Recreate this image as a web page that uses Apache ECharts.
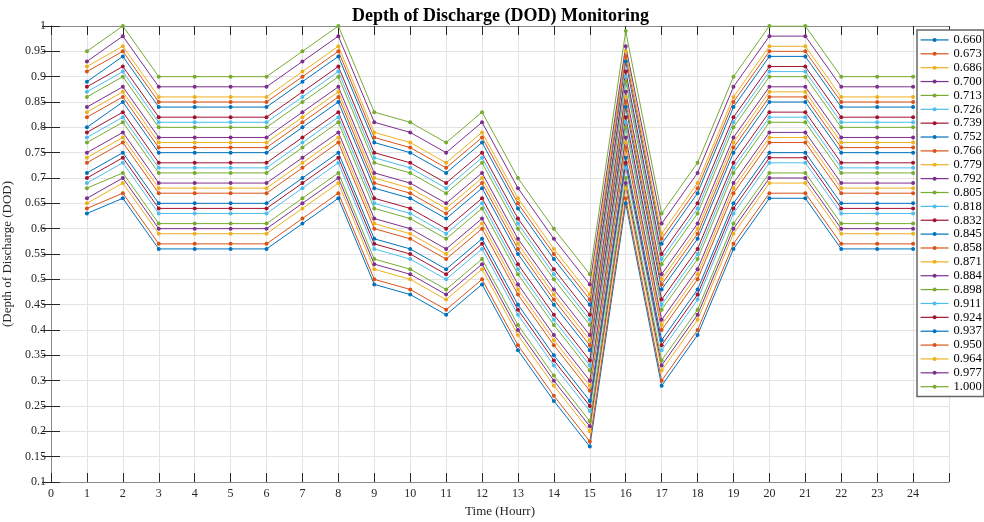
<!DOCTYPE html>
<html>
<head>
<meta charset="utf-8">
<script src="https://cdn.jsdelivr.net/npm/echarts@6/dist/echarts.min.js"></script>
<style>
  html, body { margin: 0; padding: 0; background: #fff; }
  #chart { width: 984px; height: 522px; }
</style>
</head>
<body>
<div id="chart"></div>
<script>
"use strict";

//
// Data
//
const hours = [1, 2, 3, 4, 5, 6, 7, 8, 9, 10, 11, 12, 13, 14, 15, 16, 17, 18, 19, 20, 21, 22, 23, 24];
const dod_levels = ["0.660", "0.673", "0.686", "0.700", "0.713", "0.726", "0.739", "0.752", "0.766",
  "0.779", "0.792", "0.805", "0.818", "0.832", "0.845", "0.858", "0.871", "0.884", "0.898",
  "0.911", "0.924", "0.937", "0.950", "0.964", "0.977", "1.000"];

// one array per hour, values ordered like dod_levels
const h01 = [0.63, 0.64, 0.65, 0.66, 0.68, 0.69, 0.70, 0.71, 0.73, 0.74, 0.75, 0.77, 0.78, 0.79, 0.80, 0.82, 0.83, 0.84, 0.86, 0.87, 0.88, 0.89, 0.91, 0.92, 0.93, 0.95];
const h02 = [0.66, 0.67, 0.69, 0.70, 0.71, 0.73, 0.74, 0.75, 0.77, 0.78, 0.79, 0.81, 0.82, 0.83, 0.85, 0.86, 0.87, 0.88, 0.90, 0.91, 0.92, 0.94, 0.95, 0.96, 0.98, 1.00];
const h03 = [0.56, 0.57, 0.59, 0.60, 0.61, 0.63, 0.64, 0.65, 0.67, 0.68, 0.69, 0.71, 0.72, 0.73, 0.75, 0.76, 0.77, 0.78, 0.80, 0.81, 0.82, 0.84, 0.85, 0.86, 0.88, 0.90];
const h04 = [0.56, 0.57, 0.59, 0.60, 0.61, 0.63, 0.64, 0.65, 0.67, 0.68, 0.69, 0.71, 0.72, 0.73, 0.75, 0.76, 0.77, 0.78, 0.80, 0.81, 0.82, 0.84, 0.85, 0.86, 0.88, 0.90];
const h05 = [0.56, 0.57, 0.59, 0.60, 0.61, 0.63, 0.64, 0.65, 0.67, 0.68, 0.69, 0.71, 0.72, 0.73, 0.75, 0.76, 0.77, 0.78, 0.80, 0.81, 0.82, 0.84, 0.85, 0.86, 0.88, 0.90];
const h06 = [0.56, 0.57, 0.59, 0.60, 0.61, 0.63, 0.64, 0.65, 0.67, 0.68, 0.69, 0.71, 0.72, 0.73, 0.75, 0.76, 0.77, 0.78, 0.80, 0.81, 0.82, 0.84, 0.85, 0.86, 0.88, 0.90];
const h07 = [0.61, 0.62, 0.64, 0.65, 0.66, 0.68, 0.69, 0.70, 0.72, 0.73, 0.74, 0.76, 0.77, 0.78, 0.80, 0.81, 0.82, 0.83, 0.85, 0.86, 0.87, 0.89, 0.90, 0.91, 0.93, 0.95];
const h08 = [0.66, 0.67, 0.69, 0.70, 0.71, 0.73, 0.74, 0.75, 0.77, 0.78, 0.79, 0.81, 0.82, 0.83, 0.85, 0.86, 0.87, 0.88, 0.90, 0.91, 0.92, 0.94, 0.95, 0.96, 0.98, 1.00];
const h09 = [0.49, 0.50, 0.52, 0.53, 0.54, 0.56, 0.57, 0.58, 0.60, 0.61, 0.62, 0.64, 0.65, 0.66, 0.68, 0.69, 0.70, 0.71, 0.73, 0.74, 0.75, 0.77, 0.78, 0.79, 0.81, 0.83];
const h10 = [0.47, 0.48, 0.50, 0.51, 0.52, 0.54, 0.55, 0.56, 0.58, 0.59, 0.60, 0.62, 0.63, 0.64, 0.66, 0.67, 0.68, 0.69, 0.71, 0.72, 0.73, 0.75, 0.76, 0.77, 0.79, 0.81];
const h11 = [0.43, 0.44, 0.46, 0.47, 0.48, 0.50, 0.51, 0.52, 0.54, 0.55, 0.56, 0.58, 0.59, 0.60, 0.62, 0.63, 0.64, 0.65, 0.67, 0.68, 0.69, 0.71, 0.72, 0.73, 0.75, 0.77];
const h12 = [0.49, 0.50, 0.52, 0.53, 0.54, 0.56, 0.57, 0.58, 0.60, 0.61, 0.62, 0.64, 0.65, 0.66, 0.68, 0.69, 0.70, 0.71, 0.73, 0.74, 0.75, 0.77, 0.78, 0.79, 0.81, 0.83];
const h13 = [0.36, 0.37, 0.39, 0.40, 0.41, 0.43, 0.44, 0.45, 0.47, 0.48, 0.49, 0.51, 0.52, 0.53, 0.55, 0.56, 0.57, 0.58, 0.60, 0.61, 0.62, 0.64, 0.65, 0.66, 0.68, 0.70];
const h14 = [0.26, 0.27, 0.29, 0.30, 0.31, 0.33, 0.34, 0.35, 0.37, 0.38, 0.39, 0.41, 0.42, 0.43, 0.45, 0.46, 0.47, 0.48, 0.50, 0.51, 0.52, 0.54, 0.55, 0.56, 0.58, 0.60];
const h15 = [0.17, 0.18, 0.20, 0.21, 0.22, 0.24, 0.25, 0.26, 0.28, 0.29, 0.30, 0.32, 0.33, 0.34, 0.36, 0.37, 0.38, 0.39, 0.41, 0.42, 0.43, 0.45, 0.46, 0.47, 0.49, 0.51];
const h16 = [0.65, 0.66, 0.68, 0.69, 0.70, 0.72, 0.73, 0.74, 0.76, 0.77, 0.78, 0.80, 0.81, 0.82, 0.84, 0.85, 0.86, 0.87, 0.89, 0.90, 0.91, 0.93, 0.94, 0.95, 0.96, 0.99];
const h17 = [0.29, 0.30, 0.32, 0.33, 0.34, 0.36, 0.37, 0.38, 0.40, 0.41, 0.42, 0.44, 0.45, 0.46, 0.48, 0.49, 0.50, 0.51, 0.53, 0.54, 0.55, 0.57, 0.58, 0.59, 0.61, 0.63];
const h18 = [0.39, 0.40, 0.42, 0.43, 0.44, 0.46, 0.47, 0.48, 0.50, 0.51, 0.52, 0.54, 0.55, 0.56, 0.58, 0.59, 0.60, 0.61, 0.63, 0.64, 0.65, 0.67, 0.68, 0.69, 0.71, 0.73];
const h19 = [0.56, 0.57, 0.59, 0.60, 0.61, 0.63, 0.64, 0.65, 0.67, 0.68, 0.69, 0.71, 0.72, 0.73, 0.75, 0.76, 0.77, 0.78, 0.80, 0.81, 0.82, 0.84, 0.85, 0.86, 0.88, 0.90];
const h20 = [0.66, 0.67, 0.69, 0.70, 0.71, 0.73, 0.74, 0.75, 0.77, 0.78, 0.79, 0.81, 0.82, 0.83, 0.85, 0.86, 0.87, 0.88, 0.90, 0.91, 0.92, 0.94, 0.95, 0.96, 0.98, 1.00];
const h21 = [0.66, 0.67, 0.69, 0.70, 0.71, 0.73, 0.74, 0.75, 0.77, 0.78, 0.79, 0.81, 0.82, 0.83, 0.85, 0.86, 0.87, 0.88, 0.90, 0.91, 0.92, 0.94, 0.95, 0.96, 0.98, 1.00];
const h22 = [0.56, 0.57, 0.59, 0.60, 0.61, 0.63, 0.64, 0.65, 0.67, 0.68, 0.69, 0.71, 0.72, 0.73, 0.75, 0.76, 0.77, 0.78, 0.80, 0.81, 0.82, 0.84, 0.85, 0.86, 0.88, 0.90];
const h23 = [0.56, 0.57, 0.59, 0.60, 0.61, 0.63, 0.64, 0.65, 0.67, 0.68, 0.69, 0.71, 0.72, 0.73, 0.75, 0.76, 0.77, 0.78, 0.80, 0.81, 0.82, 0.84, 0.85, 0.86, 0.88, 0.90];
const h24 = [0.56, 0.57, 0.59, 0.60, 0.61, 0.63, 0.64, 0.65, 0.67, 0.68, 0.69, 0.71, 0.72, 0.73, 0.75, 0.76, 0.77, 0.78, 0.80, 0.81, 0.82, 0.84, 0.85, 0.86, 0.88, 0.90];

const hour_cols = [h01, h02, h03, h04, h05, h06, h07, h08, h09, h10, h11, h12,
  h13, h14, h15, h16, h17, h18, h19, h20, h21, h22, h23, h24];

// MATLAB default colour order
const colors = ["#0072BD", "#D95319", "#EDB120", "#7E2F8E", "#77AC30", "#4DBEEE", "#A2142F"];

//
// Chart
//
const font = "'Liberation Serif', 'Times New Roman', serif";
const chart = echarts.init(document.getElementById("chart"));

const series = dod_levels.map((name, k) => ({
  type: "line",
  name: name,
  data: hours.map((h, i) => [h, hour_cols[i][k]]),
  xAxisIndex: 0,
  yAxisIndex: 0,
  symbol: "circle",
  symbolSize: 4,
  lineStyle: { width: 1 },
  itemStyle: { color: colors[k % colors.length] },
  animation: false,
}));

const tick_style = { show: true, inside: true, length: 9, lineStyle: { color: "#262626", width: 1 } };
const line_style = { show: true, lineStyle: { color: "#8a8a8a", width: 1 } };
const grid_style = { show: true, lineStyle: { color: "#e3e3e3", width: 1 } };

chart.setOption({
  backgroundColor: "#fff",
  title: {
    text: "Depth of Discharge (DOD) Monitoring",
    left: 347,
    top: 2,
    textStyle: { fontFamily: font, fontSize: 18, fontWeight: "bold", color: "#000" },
  },
  grid: { left: 51, right: 35, top: 26, height: 456, containLabel: false, outerBoundsMode: "none" },
  legend: {
    orient: "vertical",
    left: 917,
    top: 30,
    padding: [3, 2, 3, 3],
    itemWidth: 28,
    itemHeight: 5,
    itemGap: 0,
    itemTextGap: 3,
    lineStyle: { width: 1.2 },
    backgroundColor: "#fff",
    borderColor: "#666",
    borderWidth: 1.5,
    textStyle: { fontFamily: font, fontSize: 12.5, color: "#000", lineHeight: 13.87 },
    data: dod_levels,
  },
  xAxis: [
    {
      type: "value",
      min: 0,
      max: 25,
      interval: 1,
      name: "Time (Hourr)",
      nameLocation: "middle",
      nameGap: 20,
      nameTextStyle: { fontFamily: font, fontSize: 13, color: "#262626" },
      axisLine: line_style,
      axisTick: tick_style,
      splitLine: grid_style,
      axisLabel: {
        fontFamily: font,
        fontSize: 12,
        color: "#262626",
        margin: 6,
        formatter: (v) => (v === 25 ? "" : String(v)),
      },
    },
    {
      type: "value",
      position: "top",
      min: 0,
      max: 25,
      interval: 1,
      axisLine: line_style,
      axisTick: tick_style,
      splitLine: { show: false },
      axisLabel: { show: false },
    },
  ],
  yAxis: [
    {
      type: "value",
      min: 0.1,
      max: 1,
      interval: 0.05,
      name: "(Depth of Discharge (DOD)",
      nameLocation: "middle",
      nameGap: 30,
      nameTextStyle: { fontFamily: font, fontSize: 13, color: "#262626" },
      axisLine: line_style,
      axisTick: tick_style,
      splitLine: grid_style,
      axisLabel: { fontFamily: font, fontSize: 12, color: "#262626", margin: 5 },
    },
    {
      type: "value",
      position: "right",
      min: 0.1,
      max: 1,
      interval: 0.05,
      axisLine: line_style,
      axisTick: tick_style,
      splitLine: { show: false },
      axisLabel: { show: false },
    },
  ],
  series: series,
});
</script>
</body>
</html>
